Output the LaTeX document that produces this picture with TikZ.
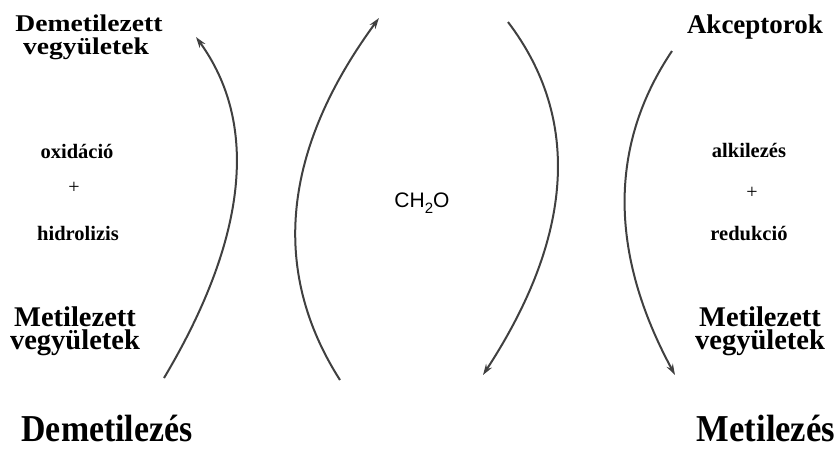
\documentclass[tikz,border=0pt]{standalone}
\usepackage{fontspec}
\setmainfont{Liberation Serif}
\newfontfamily\sansf{Liberation Sans}
\usetikzlibrary{arrows.meta}
\begin{document}
\begin{tikzpicture}[x=1pt,y=-1pt,
  lbl/.style={anchor=base, inner sep=0pt},
  hdr/.style={lbl, font=\bfseries\fontsize{27}{27}\selectfont},
  mid/.style={lbl, font=\bfseries\fontsize{20.5}{20.5}\selectfont},
  big/.style={lbl, font=\bfseries\fontsize{38}{38}\selectfont},
  plus/.style={inner sep=0pt, font=\fontsize{20}{20}\selectfont},
  flow/.style={line width=2pt, draw=black!75, -{Stealth[length=11pt,width=7pt]}}]
\useasboundingbox (0,0) rectangle (839,448);

% labels
\node[hdr, font=\bfseries\fontsize{24}{24}\selectfont, xscale=1.15] (dem1) at (89,31) {Demetilezett};
\node[hdr, font=\bfseries\fontsize{24}{24}\selectfont, xscale=1.15] (dem2) at (86,54) {vegyületek};
\node[hdr] (akc) at (755,33) {Akceptorok};
\node[mid] (oxi) at (77,158) {oxidáció};
\node[plus] (pl1) at (74,188) {+};
\node[mid] (hid) at (78,240) {hidrolizis};
\node[mid] (alk) at (749,157) {alkilezés};
\node[plus] (pl2) at (752,193) {+};
\node[mid] (red) at (749,240) {redukció};
\node[lbl, font=\sansf\fontsize{21}{21}\selectfont] (ch) at (422,207) {CH\raisebox{-0.3em}{\fontsize{15}{15}\selectfont 2}O};
\node[hdr, font=\bfseries\fontsize{28.5}{28.5}\selectfont] (ml1) at (75,326) {Metilezett};
\node[hdr, font=\bfseries\fontsize{28.5}{28.5}\selectfont] (ml2) at (75,349) {vegyületek};
\node[hdr, font=\bfseries\fontsize{28.5}{28.5}\selectfont] (mr1) at (760,326) {Metilezett};
\node[hdr, font=\bfseries\fontsize{28.5}{28.5}\selectfont] (mr2) at (760,349) {vegyületek};
\node[big, xscale=0.89] (demz) at (107,441) {Demetilezés};
\node[big, xscale=0.91] (metz) at (766,441) {Metilezés};

% arc end points
\coordinate (a1) at (164,378);
\coordinate (b1) at (196,37);
\coordinate (a2) at (340,380);
\coordinate (b2) at (379,18);
\coordinate (a3) at (508,22);
\coordinate (b3) at (483,375);
\coordinate (a4) at (672,51);
\coordinate (b4) at (675,375);

\draw[flow] (a1) .. controls (248,237) and (258.7,123.3) .. (b1);
\draw[flow] (a2) .. controls (269.7,270) and (282.7,149.3) .. (b2);
\draw[flow] (a3) .. controls (581.7,119) and (573.3,236.7) .. (b3);
\draw[flow] (a4) .. controls (608.3,145.7) and (609.3,253.7) .. (b4);
\end{tikzpicture}
\end{document}
